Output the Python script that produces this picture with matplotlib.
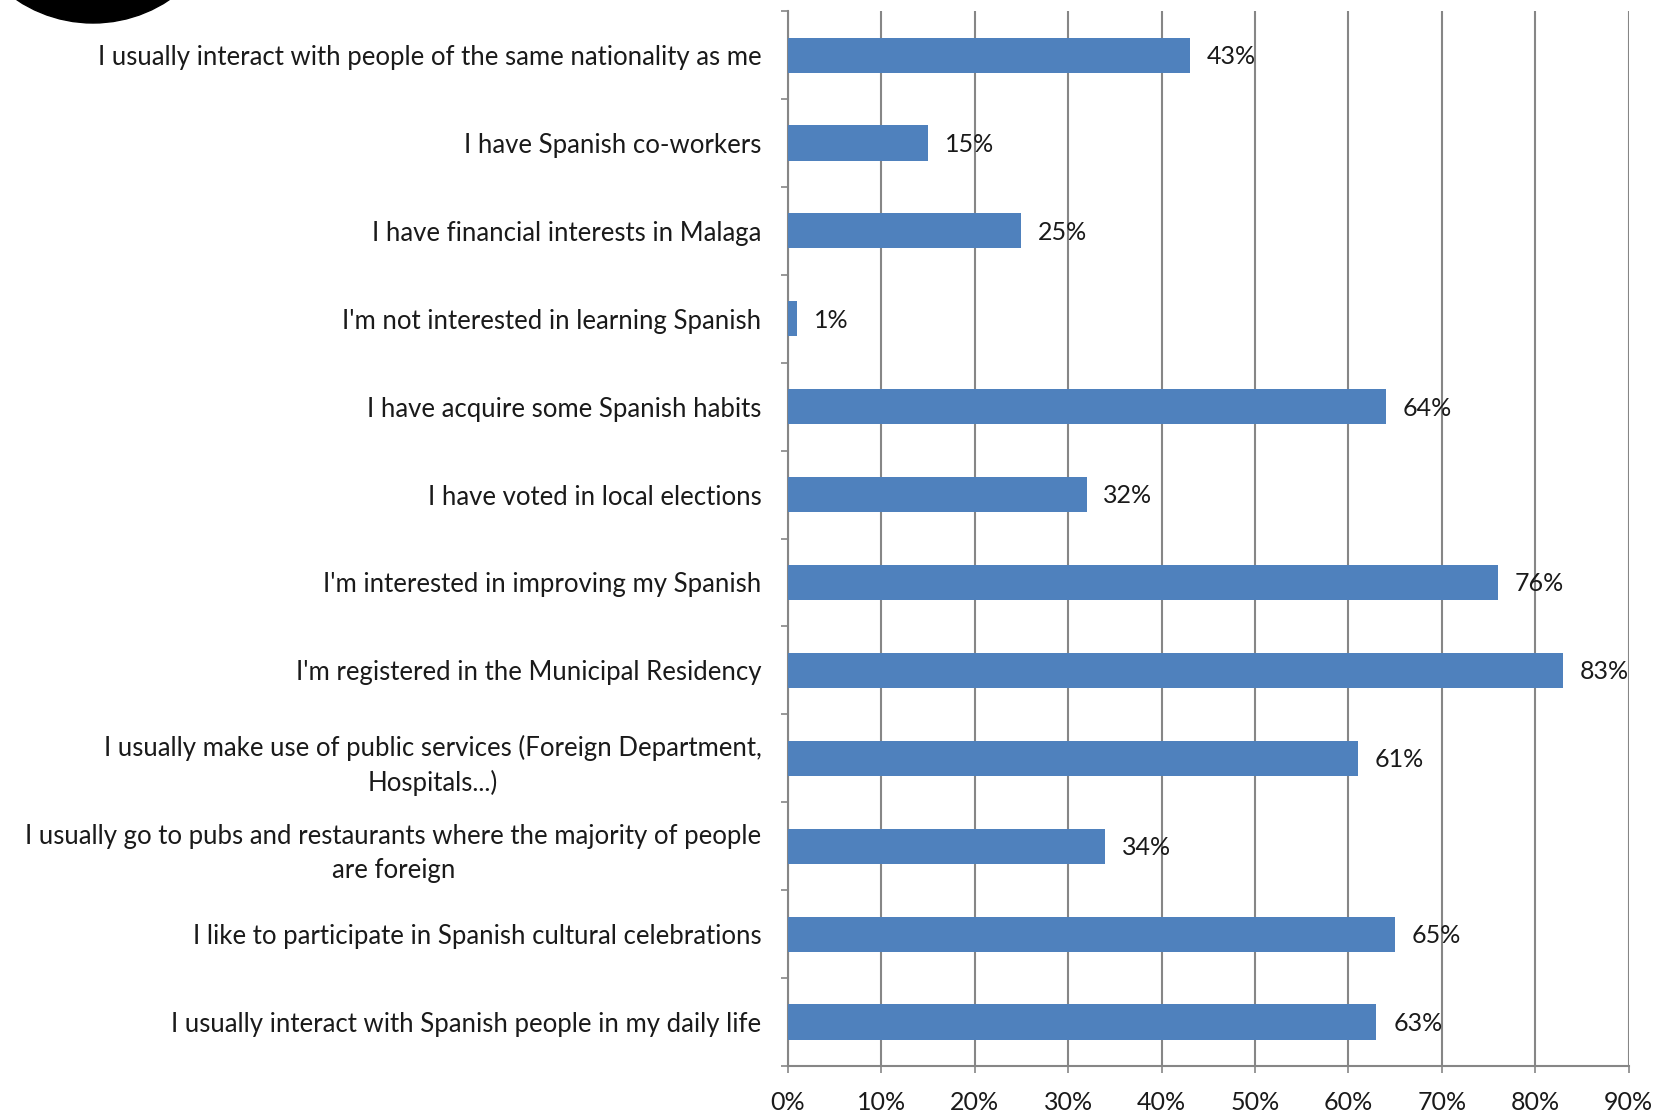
import matplotlib.pyplot as plt
from matplotlib.patches import Ellipse
from matplotlib.ticker import FixedLocator, PercentFormatter

plt.rcParams['font.family'] = ['Lato', 'DejaVu Sans']

statements = [
    "I usually interact with people of the same nationality as me",
    "I have Spanish co-workers",
    "I have financial interests in Malaga",
    "I'm not interested in learning Spanish",
    "I have acquire some Spanish habits",
    "I have voted in local elections",
    "I'm interested in improving my Spanish",
    "I'm registered in the Municipal Residency",
    "I usually make use of public services (Foreign Department,\nHospitals...)",
    "I usually go to pubs and restaurants where the majority of people\nare foreign",
    "I like to participate in Spanish cultural celebrations",
    "I usually interact with Spanish people in my daily life",
]
percent = [43, 15, 25, 1, 64, 32, 76, 83, 61, 34, 65, 63]
x_ticks = [0, 10, 20, 30, 40, 50, 60, 70, 80, 90]

bar_color = '#4F81BD'
axis_gray = '#868686'
text_color = '#1a1a1a'

fig = plt.figure(figsize=(16.62, 11.15), dpi=100)
ax = fig.add_axes([0.474, 0.044, 0.506, 0.946])

pos = list(range(len(statements)))
ax.barh(pos, percent, height=0.4, color=bar_color, zorder=3)

for p, v in zip(pos, percent):
    ax.annotate(f"{v}%", (v, p), xytext=(12, -1), textcoords='offset points',
                va='center', ha='left', fontsize=18, color=text_color, zorder=4)

ax.set_ylim(len(statements) - 0.5, -0.5)
ax.set_xlim(0, 90)

ax.set_yticks(pos)
ax.set_yticklabels(statements, fontsize=18.5, color=text_color,
                   multialignment='center', linespacing=1.45)
ax.yaxis.set_minor_locator(FixedLocator([i - 0.5 for i in range(len(statements) + 1)]))
ax.tick_params(axis='y', which='major', length=0, pad=19)
ax.tick_params(axis='y', which='minor', length=5, width=1.2, color=axis_gray)

ax.set_xticks(x_ticks)
ax.xaxis.set_major_formatter(PercentFormatter(decimals=0))
ax.tick_params(axis='x', length=5, width=1.2, color=axis_gray, labelsize=18,
               labelcolor=text_color, pad=13)

ax.grid(axis='x', color=axis_gray, linewidth=1.5, zorder=0)
for side in ['top', 'right']:
    ax.spines[side].set_visible(False)
for side in ['left', 'bottom']:
    ax.spines[side].set_color(axis_gray)
    ax.spines[side].set_linewidth(1.5)

# black circle cut off in the upper left corner
fig.patches.append(Ellipse((93 / 1662, 1 + 114 / 1115), 2 * 137 / 1662, 2 * 137 / 1115,
                           transform=fig.transFigure, color='black', zorder=5))

fig.savefig('out.png', dpi=100)
